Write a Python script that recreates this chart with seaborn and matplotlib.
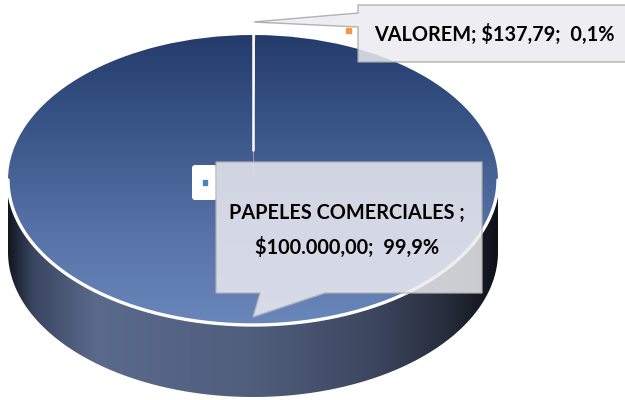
import numpy as np
import seaborn as sns
import matplotlib.pyplot as plt
from matplotlib.colors import LinearSegmentedColormap
from matplotlib.patches import Polygon, FancyBboxPatch, Rectangle

# data
categories = ["VALOREM", "PAPELES COMERCIALES "]
values = [137.79, 100000.00]
value_labels = ["$137,79", "$100.000,00"]
pct_labels = ["0,1%", "99,9%"]
slice_colors = ["#f79646", "#4f81bd"]

sns.set_theme(style="white")
plt.rcParams['font.family'] = ['Lato', 'DejaVu Sans']

W, H = 625, 400
cx, cy = 253, 180      # pie centre in pixels
a, b = 245, 145        # ellipse half axes
depth = 72             # height of the cylinder side
k = b / a

fig = plt.figure(figsize=(6.25, 4), dpi=100)
ax = fig.add_axes([0, 0, 1, 1])

wedges, _ = ax.pie(values, colors=slice_colors, startangle=90, counterclock=False,
                   radius=a, center=(0, 0), wedgeprops=dict(edgecolor='none'))
for w in wedges:
    w.set_zorder(3)
wedges[1].set_facecolor('none')

# top face gradient
top_cmap = sns.blend_palette(['#243c6c', '#3a5689', '#5571a5', '#6a87bb'], as_cmap=True)
gv = np.linspace(0, 1, 256).reshape(-1, 1)
im_top = ax.imshow(gv, cmap=top_cmap, extent=(-a, a, -a, a), aspect='auto', zorder=2)
im_top.set_clip_path(wedges[1])

# cylinder side
t = np.linspace(np.pi, 2 * np.pi, 300)
xs, ys = a * np.cos(t), a * np.sin(t)
d = depth / k
verts = np.vstack([np.column_stack([xs, ys]), np.column_stack([xs[::-1], ys[::-1] - d])])
side = Polygon(verts, closed=True, facecolor='none', edgecolor='none')
ax.add_patch(side)
side_cmap = LinearSegmentedColormap.from_list('side', [
    (0.0, '#121722'), (0.05, '#3a4661'), (0.18, '#5a6a8c'), (0.5, '#505e7d'),
    (0.75, '#3c465e'), (0.9, '#262c3a'), (1.0, '#0e1118')])
gh = np.linspace(0, 1, 256).reshape(1, -1)
im_side = ax.imshow(gh, cmap=side_cmap, extent=(-a, a, -a - d, 0), aspect='auto', zorder=1)
im_side.set_clip_path(side)

# white rim
ax.plot(xs, ys, color='white', lw=2.4, zorder=4, solid_capstyle='round')

ax.set_aspect('auto')
ax.set_xlim(-cx, W - cx)
ax.set_ylim(-(H - cy) / k, cy / k)
ax.axis('off')

# annotations in pixel coordinates
ax2 = fig.add_axes([0, 0, 1, 1])
ax2.set_xlim(0, W)
ax2.set_ylim(H, 0)
ax2.axis('off')
ax2.patch.set_alpha(0)

ax2.plot([cx, cx], [22, 150], color='white', lw=1.8)

top_call = Polygon([(358, 5), (640, 5), (640, 62), (358, 62), (358, 27), (253, 22), (358, 13)],
                   closed=True, facecolor='#ebebf0', alpha=0.85, edgecolor='#a6a6a6', lw=1)
ax2.add_patch(top_call)
ax2.add_patch(Rectangle((346, 28), 5, 5, color=slice_colors[0]))
ax2.text(494, 34, f"{categories[0]}; {value_labels[0]};  {pct_labels[0]}",
         ha='center', va='center', fontsize=14.3, fontweight='bold', color='black')

ax2.add_patch(FancyBboxPatch((192, 165), 25, 35, boxstyle='round,pad=0,rounding_size=3',
                             facecolor='white', edgecolor='none'))
ax2.add_patch(Rectangle((203, 180), 4, 5, color=slice_colors[1]))

low_call = Polygon([(216, 162), (482, 162), (482, 293), (325, 293), (253, 317), (260, 293), (216, 293)],
                   closed=True, facecolor='#ebebf0', alpha=0.85, edgecolor='#b0b0b0', lw=1)
ax2.add_patch(low_call)
ax2.text(347, 213, f"{categories[1]};", ha='center', va='center',
         fontsize=14.3, fontweight='bold', color='black')
ax2.text(347, 247, f"{value_labels[1]};  {pct_labels[1]}", ha='center', va='center',
         fontsize=14.3, fontweight='bold', color='black')

fig.savefig("out.png", dpi=100)
